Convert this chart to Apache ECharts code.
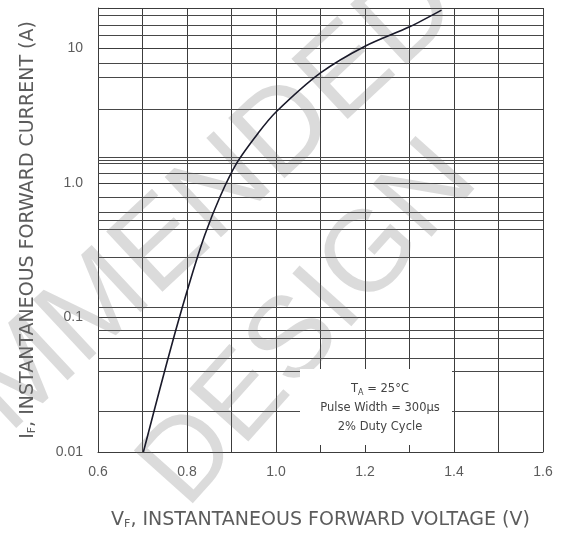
<!DOCTYPE html>
<html><head><meta charset="utf-8">
<script src="https://cdn.jsdelivr.net/npm/echarts@6/dist/echarts.min.js"></script>
<style>html,body{margin:0;padding:0;background:#fff}#c{width:565px;height:538px}</style>
</head><body><div id="c"></div>
<script>
// Curve: V_F (V) vs I_F (A)
const voltage = [0.702, 0.739, 0.773, 0.807, 0.840, 0.874, 0.912, 0.960, 1.000, 1.100, 1.200, 1.300, 1.372];
const current = [0.0100, 0.0294, 0.0767, 0.187, 0.410, 0.787, 1.41, 2.35, 3.37, 6.58, 10.4, 14.5, 19.3];
const xTickLabels = ['0.6', '0.8', '1.0', '1.2', '1.4', '1.6'];
const yTickValues = [0.01, 0.1, 1, 10];
const yTickLabels = ['0.01', '0.1', '1.0', '10'];
// extra horizontal grid lines as drawn on the sheet
const gridY = [0.0223, 0.0355, 0.0509, 0.0658, 0.0767, 0.124, 0.282, 0.447, 0.531, 0.608, 0.787,
               1.19, 1.41, 1.48, 1.56, 3.55, 6.14, 7.80, 12.6, 15.0, 17.7];
const noteLines = ['T_A = 25°C', 'Pulse Width = 300µs', '2% Duty Cycle'];

const chart = echarts.init(document.getElementById('c'), null, {renderer: 'canvas'});
const txt = '#5c5c5c';
const gridCol = '#3c3c3c';
const font = '"Liberation Sans", Arial, sans-serif';
const wide = '"DejaVu Sans", sans-serif';

function near(a, b) { return Math.abs(a - b) <= Math.abs(b) * 1e-6 + 1e-9; }

const note = noteLines.map(function (l) {
  if (l.indexOf('_') >= 0) {
    const p = l.split('_');
    return '{t|' + p[0] + '}{s|' + p[1].charAt(0) + '}{t|' + p[1].slice(1) + '}';
  }
  return '{t|' + l + '}';
}).join('\n');

chart.setOption({
  animation: false,
  backgroundColor: '#fff',
  textStyle: {fontFamily: font},
  grid: {left: 98, right: 22, top: 8, bottom: 86},
  xAxis: {
    type: 'value', min: 0.6, max: 1.6, interval: 0.1,
    name: 'V{s|F}, INSTANTANEOUS FORWARD VOLTAGE (V)',
    nameLocation: 'middle', nameGap: 58,
    nameTextStyle: {color: txt, fontSize: 19, fontFamily: wide,
      rich: {s: {fontSize: 11, color: txt, fontFamily: wide, padding: [9, 0, 0, 0]}}},
    axisLine: {show: true, lineStyle: {color: gridCol, width: 1}},
    axisTick: {show: false},
    axisLabel: {color: txt, fontSize: 14, margin: 13, fontFamily: font,
      formatter: function (v) {
        for (const l of xTickLabels) if (near(v, parseFloat(l))) return l;
        return '';
      }},
    splitLine: {show: true, lineStyle: {color: gridCol, width: 1}}
  },
  yAxis: {
    type: 'log', logBase: 10, min: 0.01, max: 20,
    name: 'I{s|F}, INSTANTANEOUS FORWARD CURRENT (A)',
    nameLocation: 'middle', nameGap: 60,
    nameTextStyle: {color: txt, fontSize: 19, fontFamily: wide,
      rich: {s: {fontSize: 11, color: txt, fontFamily: wide, padding: [9, 0, 0, 0]}}},
    axisLine: {show: true, lineStyle: {color: gridCol, width: 1}},
    axisTick: {show: false},
    axisLabel: {color: txt, fontSize: 14, margin: 15, fontFamily: font,
      formatter: function (v) {
        for (let i = 0; i < yTickValues.length; i++) if (near(v, yTickValues[i])) return yTickLabels[i];
        return '';
      }},
    splitLine: {show: true, lineStyle: {color: gridCol, width: 1}}
  },
  graphic: [
    {type: 'text', z: 50, silent: true, x: 440, y: -12, rotation: 0.75,
      style: {text: 'RECOMMENDED', fill: 'rgba(110,110,110,0.25)', font: 'normal 120px ' + font,
        textAlign: 'right', textVerticalAlign: 'middle'}},
    {type: 'text', z: 50, silent: true, x: 310, y: 325, rotation: 0.84,
      style: {text: 'DESIGN', fill: 'rgba(110,110,110,0.25)', font: 'normal 115px ' + font,
        textAlign: 'center', textVerticalAlign: 'middle'}},
    {type: 'rect', z: 60, silent: true, shape: {x: 300, y: 369, width: 152, height: 76},
      style: {fill: '#fff'}},
    {type: 'text', z: 61, silent: true, x: 380, y: 380,
      style: {text: note, textAlign: 'center', textVerticalAlign: 'top',
        rich: {t: {fontSize: 11.5, lineHeight: 19, fill: '#444', fontFamily: wide},
               s: {fontSize: 8, lineHeight: 19, fill: '#444', fontFamily: wide, padding: [6, 0, 0, 0]}}}}
  ],
  series: [{
    type: 'line', smooth: 0.3, showSymbol: false, symbol: 'none', z: 70,
    lineStyle: {color: '#1a1a2a', width: 1.6},
    data: voltage.map(function (v, i) { return [v, current[i]]; }),
    markLine: {
      silent: true, symbol: 'none', label: {show: false}, animation: false,
      lineStyle: {color: '#484848', type: 'solid', width: 1},
      data: gridY.map(function (v) { return {yAxis: v}; })
    }
  }]
});
</script></body></html>
